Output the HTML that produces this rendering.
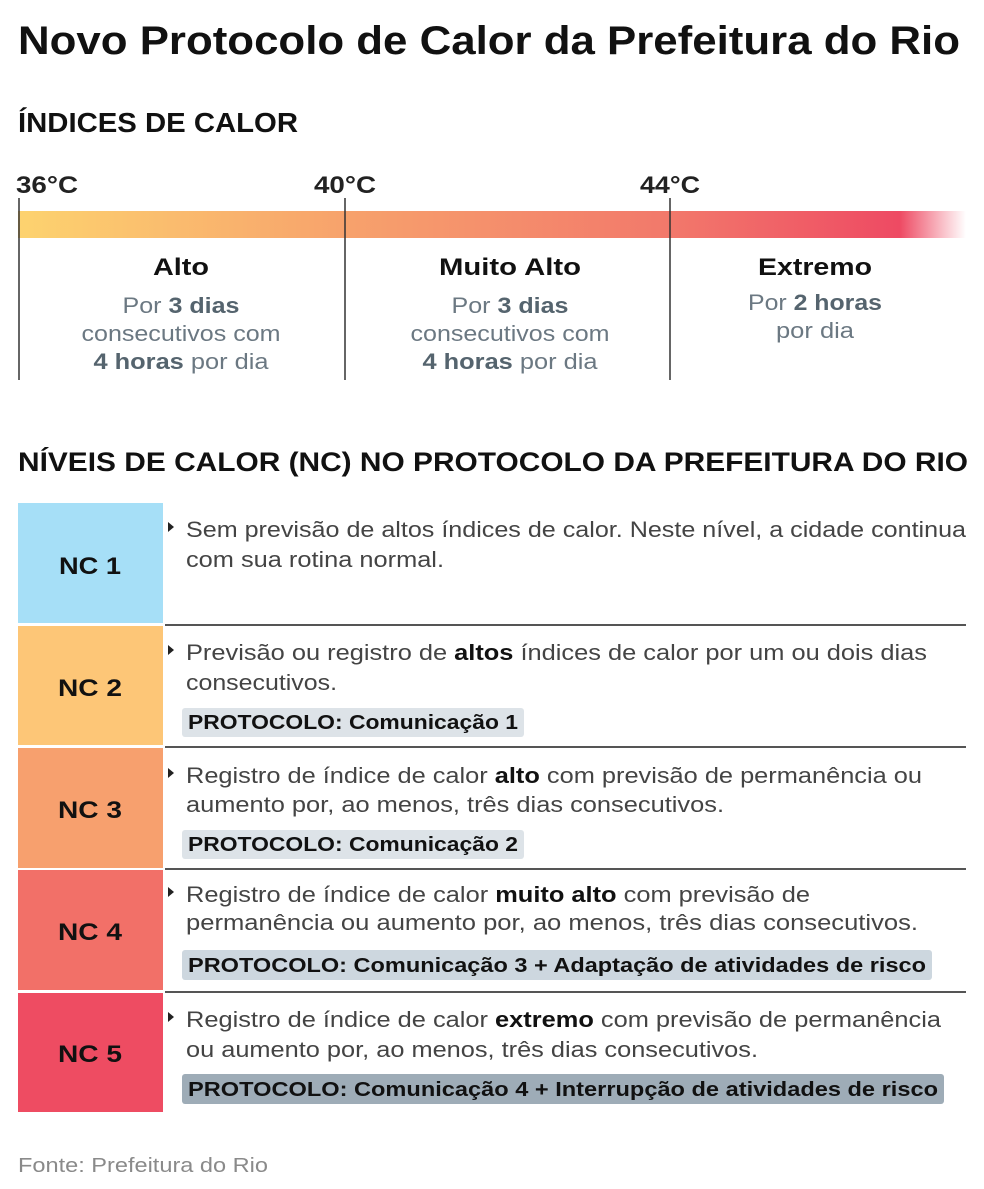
<!DOCTYPE html>
<html><head><meta charset="utf-8"><style>
html,body{margin:0;padding:0;background:#fff;width:984px;height:1189px;overflow:hidden}
svg{display:block}
text{font-family:"Liberation Sans",sans-serif}
.b{font-weight:bold}
.g{fill:#6b7882;font-size:22px}
.gb{fill:#55646e;font-weight:bold}
.t{fill:#444;font-size:22px}
.tb{fill:#111;font-weight:bold}
.p{fill:#111;font-size:20px;font-weight:bold}
</style></head><body>
<svg width="984" height="1189" viewBox="0 0 984 1189" xmlns="http://www.w3.org/2000/svg" lengthAdjust="spacingAndGlyphs">
<defs>
<linearGradient id="gr" x1="18" x2="966" y1="0" y2="0" gradientUnits="userSpaceOnUse">
<stop offset="0" stop-color="#fdd36f"/>
<stop offset="0.345" stop-color="#f7a26c"/>
<stop offset="0.69" stop-color="#f2786b"/>
<stop offset="0.93" stop-color="#ee4a63"/>
<stop offset="1" stop-color="#ee4a63" stop-opacity="0"/>
</linearGradient>
</defs>
<text x="18" y="54" font-size="40" class="b" fill="#111" textLength="942" lengthAdjust="spacingAndGlyphs">Novo Protocolo de Calor da Prefeitura do Rio</text>
<text x="18" y="132" font-size="28" class="b" fill="#111" textLength="280" lengthAdjust="spacingAndGlyphs">ÍNDICES DE CALOR</text>
<text x="16" y="193" font-size="24" class="b" fill="#222" textLength="62" lengthAdjust="spacingAndGlyphs">36°C</text>
<text x="314" y="193" font-size="24" class="b" fill="#222" textLength="62" lengthAdjust="spacingAndGlyphs">40°C</text>
<text x="640" y="193" font-size="24" class="b" fill="#222" textLength="60" lengthAdjust="spacingAndGlyphs">44°C</text>
<rect x="18" y="211" width="948" height="27" fill="url(#gr)"/>
<g stroke="#333" stroke-width="1.5"><line x1="19" y1="198" x2="19" y2="380"/><line x1="345" y1="198" x2="345" y2="380"/><line x1="670" y1="198" x2="670" y2="380"/></g>
<g text-anchor="middle">
<text x="181" y="275" font-size="24" class="b" fill="#111" textLength="56" lengthAdjust="spacingAndGlyphs">Alto</text>
<text x="510" y="275" font-size="24" class="b" fill="#111" textLength="142" lengthAdjust="spacingAndGlyphs">Muito Alto</text>
<text x="815" y="275" font-size="24" class="b" fill="#111" textLength="114" lengthAdjust="spacingAndGlyphs">Extremo</text>
<text x="181" y="313" class="g" textLength="117" lengthAdjust="spacingAndGlyphs">Por <tspan class="gb">3 dias</tspan></text>
<text x="181" y="341" class="g" textLength="199" lengthAdjust="spacingAndGlyphs">consecutivos com</text>
<text x="181" y="369" class="g" textLength="175" lengthAdjust="spacingAndGlyphs"><tspan class="gb">4 horas</tspan> por dia</text>
<text x="510" y="313" class="g" textLength="117" lengthAdjust="spacingAndGlyphs">Por <tspan class="gb">3 dias</tspan></text>
<text x="510" y="341" class="g" textLength="199" lengthAdjust="spacingAndGlyphs">consecutivos com</text>
<text x="510" y="369" class="g" textLength="175" lengthAdjust="spacingAndGlyphs"><tspan class="gb">4 horas</tspan> por dia</text>
<text x="815" y="310" class="g" textLength="134" lengthAdjust="spacingAndGlyphs">Por <tspan class="gb">2 horas</tspan></text>
<text x="815" y="338" class="g" textLength="78" lengthAdjust="spacingAndGlyphs">por dia</text>
</g>
<text x="18" y="471" font-size="27" class="b" fill="#111" textLength="950" lengthAdjust="spacingAndGlyphs">NÍVEIS DE CALOR (NC) NO PROTOCOLO DA PREFEITURA DO RIO</text>

<rect x="18" y="503" width="145" height="120" fill="#a6dff7"/>
<rect x="18" y="626" width="145" height="119" fill="#fdc677"/>
<rect x="18" y="748" width="145" height="120" fill="#f7a06e"/>
<rect x="18" y="870" width="145" height="120" fill="#f27068"/>
<rect x="18" y="993" width="145" height="119" fill="#ee4c62"/>
<g stroke="#555" stroke-width="2"><line x1="165" y1="625" x2="966" y2="625"/><line x1="165" y1="747" x2="966" y2="747"/><line x1="165" y1="869" x2="966" y2="869"/><line x1="165" y1="992" x2="966" y2="992"/></g>
<g text-anchor="middle" font-size="24" class="b" fill="#111">
<text x="90" y="574" textLength="62" lengthAdjust="spacingAndGlyphs">NC 1</text>
<text x="90" y="696" textLength="64" lengthAdjust="spacingAndGlyphs">NC 2</text>
<text x="90" y="818" textLength="64" lengthAdjust="spacingAndGlyphs">NC 3</text>
<text x="90" y="940" textLength="64" lengthAdjust="spacingAndGlyphs">NC 4</text>
<text x="90" y="1062" textLength="64" lengthAdjust="spacingAndGlyphs">NC 5</text>
</g>
<g fill="#222">
<polygon points="168,522 174,527 168,532"/>
<polygon points="168,645 174,650 168,655"/>
<polygon points="168,768 174,773 168,778"/>
<polygon points="168,887 174,892 168,897"/>
<polygon points="168,1012 174,1017 168,1022"/>
</g>
<text x="186" y="537" class="t" textLength="780" lengthAdjust="spacingAndGlyphs">Sem previsão de altos índices de calor. Neste nível, a cidade continua</text>
<text x="186" y="567" class="t" textLength="258" lengthAdjust="spacingAndGlyphs">com sua rotina normal.</text>
<text x="186" y="660" class="t" textLength="741" lengthAdjust="spacingAndGlyphs">Previsão ou registro de <tspan class="tb">altos</tspan> índices de calor por um ou dois dias</text>
<text x="186" y="690" class="t" textLength="151" lengthAdjust="spacingAndGlyphs">consecutivos.</text>
<rect x="182" y="708" width="342" height="29" rx="3" fill="#dde3e8"/>
<text x="188" y="729" class="p" textLength="330" lengthAdjust="spacingAndGlyphs">PROTOCOLO:  Comunicação 1</text>
<text x="186" y="783" class="t" textLength="736" lengthAdjust="spacingAndGlyphs">Registro de índice de calor <tspan class="tb">alto</tspan> com previsão de permanência ou</text>
<text x="186" y="812" class="t" textLength="538" lengthAdjust="spacingAndGlyphs">aumento por, ao menos, três dias consecutivos.</text>
<rect x="182" y="830" width="342" height="29" rx="3" fill="#dde3e8"/>
<text x="188" y="851" class="p" textLength="330" lengthAdjust="spacingAndGlyphs">PROTOCOLO:  Comunicação 2</text>
<text x="186" y="902" class="t" textLength="624" lengthAdjust="spacingAndGlyphs">Registro de índice de calor <tspan class="tb">muito alto</tspan> com previsão de</text>
<text x="186" y="930" class="t" textLength="732" lengthAdjust="spacingAndGlyphs">permanência ou aumento por, ao menos, três dias consecutivos.</text>
<rect x="182" y="950" width="750" height="30" rx="3" fill="#cdd7df"/>
<text x="188" y="972" class="p" textLength="738" lengthAdjust="spacingAndGlyphs">PROTOCOLO:  Comunicação 3  + Adaptação de atividades de risco</text>
<text x="186" y="1027" class="t" textLength="755" lengthAdjust="spacingAndGlyphs">Registro de índice de calor <tspan class="tb">extremo</tspan> com previsão de permanência</text>
<text x="186" y="1057" class="t" textLength="572" lengthAdjust="spacingAndGlyphs">ou aumento por, ao menos, três dias consecutivos.</text>
<rect x="182" y="1074" width="762" height="30" rx="3" fill="#9eacb7"/>
<text x="188" y="1096" class="p" textLength="750" lengthAdjust="spacingAndGlyphs">PROTOCOLO:  Comunicação 4  + Interrupção de atividades de risco</text>
<text x="18" y="1172" font-size="20" fill="#8a8a8a" textLength="250" lengthAdjust="spacingAndGlyphs">Fonte: Prefeitura do Rio</text>
</svg>
</body></html>
